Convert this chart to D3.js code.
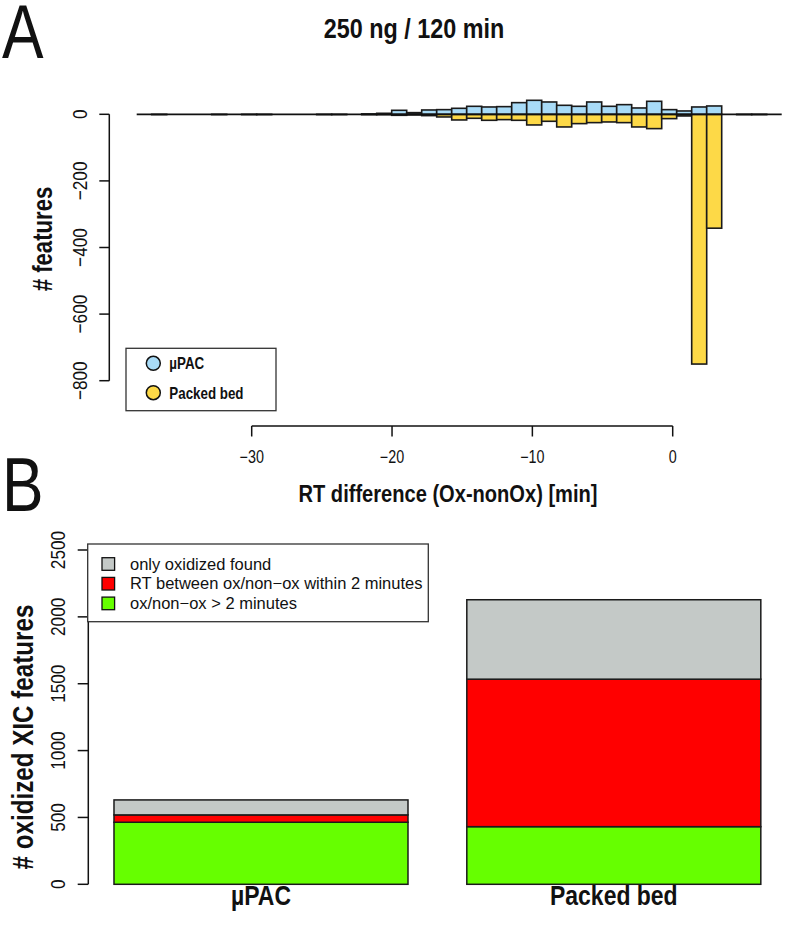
<!DOCTYPE html>
<html>
<head>
<meta charset="utf-8">
<title>RT difference histogram</title>
<script src="https://d3js.org/d3.v7.min.js"></script>
<style>
body { margin: 0; background: #fff; }
text { font-family: "Liberation Sans", Arial, sans-serif; fill: #111; }
</style>
</head>
<body>
<script>
// ---- panel A data: 43 bins of RT difference, counts per column type
var binCount = 43;
var upacCounts = [0,0,0,0,0,0,0,0,0,0,0,0,0,0,0,1,3,12,5,13,14,18,24,22,23,35,42,37,27,24,37,24,29,19,39,14,10,22,25,0,0,0,0];
var packedCounts = [0,1,0,0,0,1,0,1,1,0,0,0,1,1,0,1,1,3,2,4,8,17,12,18,16,18,32,21,38,28,25,23,25,38,43,13,5,750,342,0,1,1,0];
var xTicksA = [-30, -20, -10, 0];
var yTicksA = [0, -200, -400, -600, -800];

// ---- panel B data: stacked counts
var columns = ["µPAC", "Packed bed"];
var groups = ["ox/non−ox > 2 minutes", "RT between ox/non−ox within 2 minutes", "only oxidized found"];
var over2min = [464, 431];
var within2min = [55, 1103];
var onlyOx = [112, 594];
var yTicksB = [0, 500, 1000, 1500, 2000, 2500];

var blue = "#a8dbf7", yellow = "#fdd947";
var groupColors = ["#66ff00", "#ff0000", "#c4c9c7"];
var squeeze = 0.82;   // the figure uses a condensed face

var svg = d3.select("body").append("svg")
    .attr("width", 808)
    .attr("height", 926);
svg.append("rect").attr("width", 808).attr("height", 926).attr("fill", "#fff");

function fmt(v) { return v < 0 ? "\u2212" + Math.abs(v) : String(v); }

// condensed text: x,y anchor, optional rotation
function ntext(parent, x, y, rot, size, bold, anchor, str) {
  return parent.append("text")
      .attr("transform", "translate(" + x + "," + y + ")" + (rot ? " rotate(" + rot + ")" : "") + " scale(" + squeeze + ",1)")
      .attr("font-size", size)
      .attr("font-weight", bold ? "bold" : null)
      .attr("text-anchor", anchor || "start")
      .text(str);
}

// ================= panel A =================
var binX = d3.scaleLinear().domain([0, binCount]).range([136.7, 781.7]);
var axisX = d3.scaleLinear().domain([-30, 0]).range([251.7, 672.7]);
var yA = d3.scaleLinear().domain([-800, 0]).range([380.7, 114.3]);

ntext(svg, 2, 58, 0, 76, false, "start", "A");
ntext(svg, 414, 38, 0, 28.5, true, "middle", "250 ng / 120 min");

var bins = d3.range(binCount);

// packed bed bars (negative)
svg.append("g").selectAll("rect").data(bins.filter(function(i) { return packedCounts[i] > 0; }))
  .enter().append("rect")
    .attr("x", function(i) { return binX(i); })
    .attr("width", function(i) { return binX(i + 1) - binX(i); })
    .attr("y", yA(0))
    .attr("height", function(i) { return yA(-packedCounts[i]) - yA(0); })
    .attr("fill", yellow)
    .attr("stroke", "#1a1a1a")
    .attr("stroke-width", 1.6);

// µPAC bars (positive)
svg.append("g").selectAll("rect").data(bins.filter(function(i) { return upacCounts[i] > 0; }))
  .enter().append("rect")
    .attr("x", function(i) { return binX(i); })
    .attr("width", function(i) { return binX(i + 1) - binX(i); })
    .attr("y", function(i) { return yA(upacCounts[i]); })
    .attr("height", function(i) { return yA(0) - yA(upacCounts[i]); })
    .attr("fill", blue)
    .attr("stroke", "#1a1a1a")
    .attr("stroke-width", 1.6);

// zero line along all bins
svg.append("line")
    .attr("x1", binX(0)).attr("x2", binX(binCount))
    .attr("y1", yA(0)).attr("y2", yA(0))
    .attr("stroke", "#111").attr("stroke-width", 1.8);

// y axis A
var gyA = svg.append("g").attr("transform", "translate(109.3,0)");
gyA.append("line").attr("y1", yA(0)).attr("y2", yA(-800)).attr("stroke", "#111").attr("stroke-width", 1.5);
gyA.selectAll(".tk").data(yTicksA).enter().append("line")
    .attr("x1", 0).attr("x2", -10)
    .attr("y1", function(d) { return yA(d); }).attr("y2", function(d) { return yA(d); })
    .attr("stroke", "#111").attr("stroke-width", 1.5);
yTicksA.forEach(function(d) { ntext(gyA, -22, yA(d), -90, 21, false, "middle", fmt(d)); });

ntext(svg, 51.7, 239, -90, 27, true, "middle", "# features");

// x axis A
var gxA = svg.append("g").attr("transform", "translate(0,426)");
gxA.append("line").attr("x1", axisX(-30)).attr("x2", axisX(0)).attr("stroke", "#111").attr("stroke-width", 1.5);
gxA.selectAll(".tk").data(xTicksA).enter().append("line")
    .attr("x1", function(d) { return axisX(d); }).attr("x2", function(d) { return axisX(d); })
    .attr("y1", 0).attr("y2", 10.5)
    .attr("stroke", "#111").attr("stroke-width", 1.5);
xTicksA.forEach(function(d) { ntext(gxA, axisX(d), 37.3, 0, 17.5, false, "middle", fmt(d)); });

ntext(svg, 448, 501.7, 0, 24.5, true, "middle", "RT difference (Ox-nonOx) [min]");

// legend A
var legA = svg.append("g");
legA.append("rect").attr("x", 126).attr("y", 348.3).attr("width", 150).attr("height", 62.4)
    .attr("fill", "#fff").attr("stroke", "#333").attr("stroke-width", 1.3);
[["µPAC", blue], ["Packed bed", yellow]].forEach(function(e, i) {
  var cy = 363.3 + i * 29.4;
  legA.append("circle").attr("cx", 153.3).attr("cy", cy).attr("r", 7)
      .attr("fill", e[1]).attr("stroke", "#111").attr("stroke-width", 1.5);
  ntext(legA, 169.3, cy + 5.8, 0, 16.3, true, "start", e[0]);
});

// ================= panel B =================
ntext(svg, 2, 511, 0, 76, false, "start", "B");

var yB = d3.scaleLinear().domain([0, 2500]).range([884.3, 550]);
var xB = d3.scaleBand().domain(columns).range([84.6, 790.2]).paddingInner(0.1667).paddingOuter(0.0833);

var table = columns.map(function(c, i) {
  return { col: c, g0: over2min[i], g1: within2min[i], g2: onlyOx[i] };
});
var stacked = d3.stack().keys(["g0", "g1", "g2"])(table);

svg.append("g").selectAll("g").data(stacked).enter().append("g")
    .attr("fill", function(d, i) { return groupColors[i]; })
  .selectAll("rect").data(function(d) { return d; }).enter().append("rect")
    .attr("x", function(d) { return xB(d.data.col); })
    .attr("width", xB.bandwidth())
    .attr("y", function(d) { return yB(d[1]); })
    .attr("height", function(d) { return yB(d[0]) - yB(d[1]); })
    .attr("stroke", "#1a1a1a")
    .attr("stroke-width", 1.5);

// y axis B
var gyB = svg.append("g").attr("transform", "translate(88.3,0)");
gyB.append("line").attr("y1", yB(0)).attr("y2", yB(2500)).attr("stroke", "#111").attr("stroke-width", 1.5);
gyB.selectAll(".tk").data(yTicksB).enter().append("line")
    .attr("x1", 0).attr("x2", -10.6)
    .attr("y1", function(d) { return yB(d); }).attr("y2", function(d) { return yB(d); })
    .attr("stroke", "#111").attr("stroke-width", 1.5);
yTicksB.forEach(function(d) { ntext(gyB, -23.3, yB(d), -90, 21, false, "middle", fmt(d)); });

ntext(svg, 33.3, 737, -90, 29.5, true, "middle", "# oxidized XIC features");

// category labels
columns.forEach(function(c) { ntext(svg, xB(c) + xB.bandwidth() / 2, 905, 0, 28, true, "middle", c); });

// legend B
var legB = svg.append("g");
legB.append("rect").attr("x", 87.7).attr("y", 544).attr("width", 340.6).attr("height", 77.7)
    .attr("fill", "#fff").attr("stroke", "#333").attr("stroke-width", 1.3);
var legOrder = [2, 1, 0];
legOrder.forEach(function(gi, k) {
  var cy = 564 + k * 19.7;
  legB.append("rect").attr("x", 102).attr("y", cy - 6.3).attr("width", 12.6).attr("height", 12.6)
      .attr("fill", groupColors[gi]).attr("stroke", "#111").attr("stroke-width", 1.3);
  legB.append("text")
      .attr("x", 130).attr("y", cy + 5.6)
      .attr("font-size", 16.5)
      .text(groups[gi]);
});
</script>
</body>
</html>
